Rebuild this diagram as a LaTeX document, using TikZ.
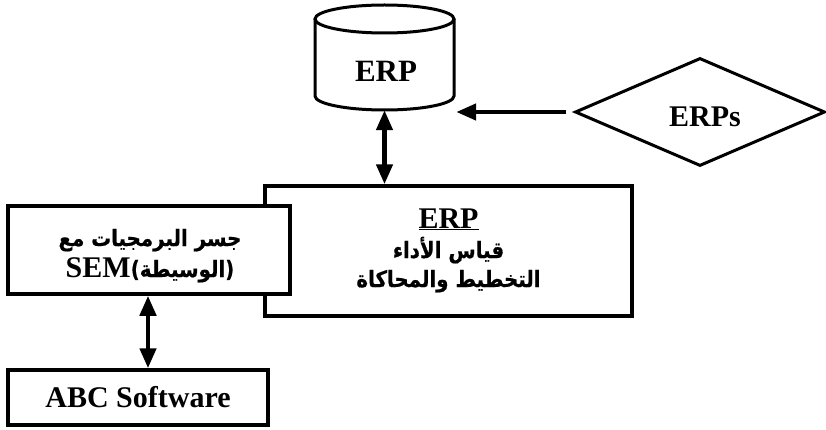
\documentclass[tikz,border=0pt]{standalone}
\usepackage{fontspec}
\setmainfont{Liberation Serif}
\newfontfamily\arabicfont[Script=Arabic, FakeStretch=0.88, FakeBold=0.6]{DejaVu Sans}
\TeXXeTstate=1
\usetikzlibrary{arrows.meta,shapes.geometric}

\begin{document}
\begin{tikzpicture}[x=1pt,y=1pt,
  box/.style={draw, line width=3.5pt, inner sep=0pt, fill=white},
  outline/.style={line width=3pt},
  link/.style={line width=4.5pt, {Triangle[length=20pt,width=16pt]}-{Triangle[length=20pt,width=16pt]}},
  feed/.style={line width=4.5pt, -{Triangle[length=20pt,width=16pt]}},
  en/.style={font=\fontsize{30}{30}\selectfont\bfseries, inner sep=0pt, anchor=base},
  ar/.style={font=\fontsize{22.5}{22.5}\selectfont\arabicfont\bfseries, inner sep=0pt, anchor=base},
  ]
\useasboundingbox (0,0) rectangle (826,429);

% database cylinder
\node[inner sep=0pt, minimum width=139pt, minimum height=105pt] (db) at (384.5,371.5) {};
\draw[outline] (384.5,410) ellipse [x radius=69.5, y radius=14];
\draw[outline] (315,410) -- (315,333)
  arc[start angle=180, end angle=360, x radius=69.5, y radius=14] -- (454,410);
\node[en, font=\fontsize{31}{31}\selectfont\bfseries] (dbtext) at (386,347) {ERP};

% external systems diamond
\node[diamond, draw, outline, aspect=2.3, inner sep=0pt,
      minimum width=250pt, minimum height=108pt] (dia) at (700,317) {};
\node[en] (diatext) at (705,302) {ERPs};

% central module
\node[box, minimum width=367pt, minimum height=130pt] (core) at (448.5,178) {};
\node[en] (coretitle) at (448.5,201) {\underline{ERP}};
\node[ar] (coreline1) at (448.5,171) {\beginR قياس الأداء\endR};
\node[ar] (coreline2) at (448.5,142) {\beginR التخطيط والمحاكاة\endR};

% middleware bridge, drawn over the module's left edge
\node[box, minimum width=282pt, minimum height=88pt] (bridge) at (149,179) {};
\node[ar] (bridgeline1) at (150,183) {\beginR جسر البرمجيات مع\endR};
\node[ar] (bridgeline2) at (150,152) {\beginR (الوسيطة)\beginL\fontsize{30}{30}\selectfont\rmfamily\bfseries SEM\endL\endR};

% costing software
\node[box, minimum width=260pt, minimum height=55pt] (abc) at (138,31.5) {};
\node[en] (abctext) at (138,22) {ABC Software};

% connectors
\draw[link] (db.south) -- (db.south |- core.north);
\draw[link] ([xshift=-1pt]bridge.south) -- ([xshift=-1pt]bridge.south |- abc.north);
\draw[feed] ([xshift=-8pt]dia.west) -- ([xshift=2pt]db.east |- dia.west);
\end{tikzpicture}
\end{document}
